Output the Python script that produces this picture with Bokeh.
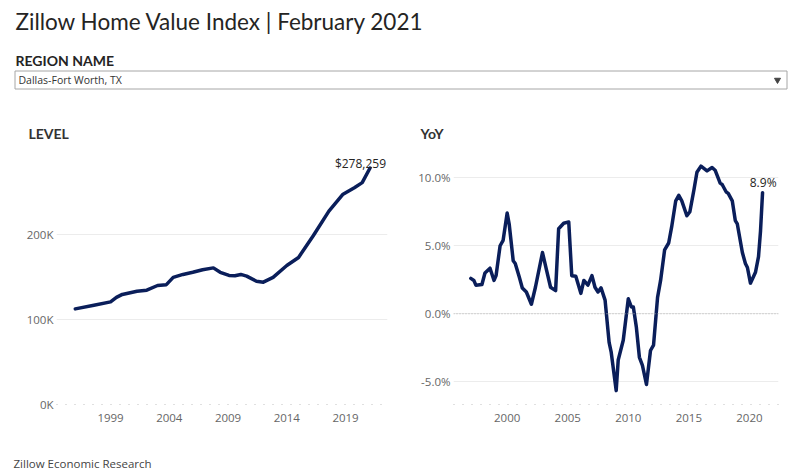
from bokeh.plotting import figure
from bokeh.models import Range1d, FixedTicker, Span
from bokeh.layouts import column, row
from bokeh.embed import file_html
from bokeh.resources import INLINE
from bokeh.core.properties import value

TITLE = "Zillow Home Value Index | February 2021"
FILTER_LABEL = "REGION NAME"
REGION = "Dallas-Fort Worth, TX"
SOURCE = "Zillow Economic Research"
LEVEL_TITLE = "LEVEL"
YOY_TITLE = "YoY"

# ---- data ----
level_dates = ["1996-01", "1997-08", "1999-01", "1999-07", "2000-01", "2001-04", "2002-02",
               "2003-01", "2003-10", "2004-05", "2005-03", "2006-01", "2006-11",
               "2007-10", "2008-05", "2009-02", "2009-08", "2010-02", "2010-08",
               "2011-06", "2012-01", "2012-11", "2014-01", "2015-01", "2016-04",
               "2017-08", "2018-10", "2019-10", "2020-06", "2021-02"]
level_values = [112500, 116700, 120700, 126000, 129500, 133300, 134500,
                140000, 141000, 149500, 153000, 155500, 158500,
                160700, 155500, 151800, 151500, 153000, 151000,
                145000, 143900, 149500, 163500, 173000, 198500,
                227500, 247000, 255000, 261000, 278259]

yoy_dates = ["1997-01", "1997-04", "1997-06", "1997-12", "1998-03", "1998-08",
             "1998-12", "1999-02", "1999-06", "1999-09", "2000-01", "2000-03",
             "2000-07", "2000-09", "2001-01", "2001-04", "2001-08", "2002-01",
             "2002-05", "2002-12", "2003-04", "2003-08", "2004-01", "2004-04",
             "2004-09", "2005-02", "2005-05", "2005-09", "2006-02", "2006-05",
             "2006-09", "2007-01", "2007-04", "2007-07", "2007-10", "2008-02",
             "2008-06", "2008-08", "2009-01", "2009-03", "2009-08", "2010-01",
             "2010-04", "2010-06", "2010-09", "2010-12", "2011-03", "2011-07",
             "2011-11", "2012-02", "2012-06", "2012-09", "2013-01", "2013-05",
             "2013-08", "2013-12", "2014-03", "2014-06", "2014-11", "2015-02",
             "2015-06", "2015-09", "2016-01", "2016-07", "2016-12", "2017-03",
             "2017-08", "2017-10", "2018-02", "2018-04", "2018-08", "2018-11",
             "2019-01", "2019-06", "2019-09", "2019-11", "2020-02", "2020-07",
             "2020-10", "2020-12", "2021-02"]
yoy_values = [2.6, 2.45, 2.1, 2.15, 3.0, 3.35,
              2.45, 2.8, 5.0, 5.4, 7.4, 6.6,
              3.9, 3.7, 2.7, 1.9, 1.6, 0.7,
              1.95, 4.5, 3.2, 1.95, 1.7, 6.25,
              6.65, 6.75, 2.8, 2.75, 1.5, 2.45,
              2.1, 2.8, 1.95, 1.6, 1.9, 1.0,
              -2.1, -2.8, -5.65, -3.4, -1.95, 1.1,
              0.5, 0.5, -1.0, -3.2, -3.8, -5.2,
              -2.7, -2.3, 1.2, 2.45, 4.7, 5.2,
              6.4, 8.3, 8.7, 8.3, 7.2, 7.5,
              9.1, 10.4, 10.85, 10.5, 10.75, 10.55,
              9.6, 9.5, 8.95, 8.85, 8.3, 6.85,
              6.6, 4.5, 3.7, 3.4, 2.25, 3.05,
              4.2, 6.1, 8.9]

level_xticks = [1999, 2004, 2009, 2014, 2019]
level_xtick_labels = ["1999", "2004", "2009", "2014", "2019"]
level_yticks = [0, 100000, 200000]
level_ytick_labels = ["0K", "100K", "200K"]
yoy_xticks = [2000, 2005, 2010, 2015, 2020]
yoy_xtick_labels = ["2000", "2005", "2010", "2015", "2020"]
yoy_yticks = [-5, 0, 5, 10]
yoy_ytick_labels = ["-5.0%", "0.0%", "5.0%", "10.0%"]


def to_year(s):
    y, m = s.split("-")
    return int(y) + (int(m) - 1) / 12.0


LINE = "#0a1e5a"
TXT = "#252423"
TICK = "#666666"
FONT = "Open Sans"
W = 794
HDR_H = 145

# ---- header (title, filter, panel titles) ----
hdr = figure(width=W, height=HDR_H, x_range=Range1d(0, W), y_range=Range1d(HDR_H, 0),
             output_backend="svg", toolbar_location=None, min_border=0,
             x_axis_location=None, y_axis_location=None)
hdr.grid.visible = False
hdr.outline_line_color = None
hdr.text(x=[15], y=[21], text=[TITLE], text_font=value("Lato"), text_font_size="22.5px",
         text_baseline="middle", text_color=TXT)
hdr.text(x=[15], y=[60], text=[FILTER_LABEL], text_font=value("Lato"), text_font_size="14px",
         text_font_style="bold", text_baseline="middle", text_color=TXT)
hdr.quad(left=[14.5], right=[786.5], top=[70.5], bottom=[88.5], fill_color="white",
         line_color="#a6a6a6", line_width=1)
hdr.text(x=[18], y=[79.5], text=[REGION], text_font=value(FONT), text_font_size="10.5px",
         text_baseline="middle", text_color="#333333")
hdr.scatter(x=[777], y=[79.5], marker="inverted_triangle", size=6, color="#444444")
hdr.text(x=[28], y=[133], text=[LEVEL_TITLE], text_font=value("Lato"), text_font_size="14px",
         text_font_style="bold", text_baseline="middle", text_color="#333333")
hdr.text(x=[420], y=[133], text=[YOY_TITLE], text_font=value("Lato"), text_font_size="14px",
         text_font_style="bold", text_baseline="middle", text_color="#333333")


def make_chart(width, bl, br, xr, yr, xticks, xlabels, yticks, ylabels):
    p = figure(width=width, height=300, x_range=Range1d(*xr), y_range=Range1d(*yr),
               output_backend="svg", toolbar_location=None,
               min_border_left=bl, min_border_right=br, min_border_top=5, min_border_bottom=41)
    p.outline_line_color = None
    p.xgrid.visible = False
    p.ygrid.grid_line_color = "#ececec"
    p.ygrid.grid_line_width = 1
    p.xaxis.ticker = FixedTicker(ticks=xticks)
    p.xaxis.major_label_overrides = {t: l for t, l in zip(xticks, xlabels)}
    p.yaxis.ticker = FixedTicker(ticks=yticks)
    p.ygrid.ticker = FixedTicker(ticks=yticks)
    p.yaxis.major_label_overrides = {t: l for t, l in zip(yticks, ylabels)}
    for ax in (p.xaxis, p.yaxis):
        ax.major_tick_line_color = None
        ax.minor_tick_line_color = None
        ax.major_tick_out = 0
        ax.major_label_text_font = FONT
        ax.major_label_text_font_size = "11.5px"
        ax.major_label_text_color = TICK
    p.yaxis.axis_line_color = None
    p.yaxis.major_label_standoff = 3
    p.xaxis.axis_line_color = "#c0c0c0"
    p.xaxis.axis_line_dash = "1 8"
    p.xaxis.major_label_standoff = 9
    return p


left = make_chart(400, 56, 13, (1994.40, 2022.57), (0, 298800),
                  level_xticks, level_xtick_labels, level_yticks, level_ytick_labels)
lx = [to_year(d) for d in level_dates]
left.line(lx, level_values, line_color=LINE, line_width=3.5, line_join="round", line_cap="round")
left.text(x=[lx[-1]], y=[level_values[-1]], text=[f"${level_values[-1]:,}"],
          text_align="right", text_baseline="middle", x_offset=16, y_offset=-4,
          text_font=value(FONT), text_font_size="12px", text_color=TXT)

right = make_chart(394, 53, 16, (1995.57, 2022.40), (-6.67, 12.0),
                   yoy_xticks, yoy_xtick_labels, yoy_yticks, yoy_ytick_labels)
right.add_layout(Span(location=0, dimension="width", line_color="#b0b0b0",
                      line_dash="1 2", line_width=1))
yx = [to_year(d) for d in yoy_dates]
right.line(yx, yoy_values, line_color=LINE, line_width=3.5, line_join="round", line_cap="round")
right.text(x=[yx[-1]], y=[yoy_values[-1]], text=[f"{yoy_values[-1]:.1f}%"],
           text_align="right", text_baseline="middle", x_offset=14, y_offset=-10,
           text_font=value(FONT), text_font_size="12px", text_color=TXT)

ftr = figure(width=W, height=30, x_range=Range1d(0, W), y_range=Range1d(30, 0),
             output_backend="svg", toolbar_location=None, min_border=0,
             x_axis_location=None, y_axis_location=None)
ftr.grid.visible = False
ftr.outline_line_color = None
ftr.text(x=[13], y=[18], text=[SOURCE], text_font=value(FONT), text_font_size="11.5px",
         text_baseline="middle", text_color="#444444")

layout = column(hdr, row(left, right), ftr)
open("out.html", "w").write(file_html(layout, INLINE))
